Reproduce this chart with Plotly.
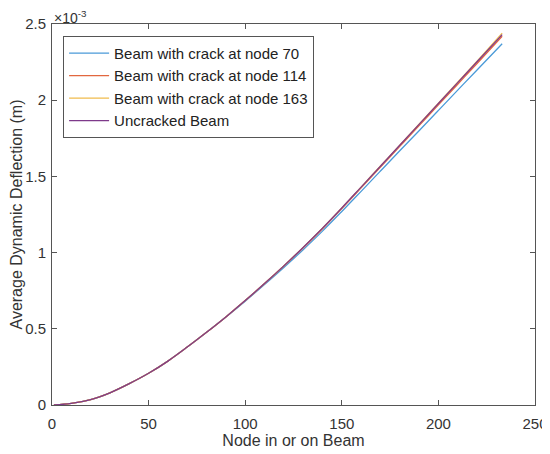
import plotly.graph_objects as go

# nós ao longo da viga
nos = [1, 10, 20, 30, 40, 50, 60, 70, 80, 90, 100, 110, 120, 130, 140, 150,
       160, 170, 180, 190, 200, 210, 220, 233]

# deflexão dinâmica média (x 10^-3 m)
sem_trinca = [0, 0.010, 0.035, 0.080, 0.140, 0.208, 0.288, 0.380, 0.477, 0.578,
              0.685, 0.797, 0.913, 1.034, 1.160, 1.293, 1.430, 1.567, 1.704,
              1.841, 1.978, 2.115, 2.252, 2.430]
trinca_70 = [0, 0.010, 0.035, 0.080, 0.140, 0.208, 0.288, 0.380, 0.477, 0.577,
             0.681, 0.790, 0.902, 1.019, 1.141, 1.270, 1.402, 1.535, 1.668,
             1.800, 1.933, 2.066, 2.198, 2.370]
trinca_114 = [0, 0.010, 0.035, 0.080, 0.140, 0.208, 0.288, 0.380, 0.477, 0.578,
              0.685, 0.797, 0.912, 1.032, 1.157, 1.289, 1.425, 1.561, 1.697,
              1.833, 1.969, 2.105, 2.241, 2.420]
trinca_163 = [0, 0.010, 0.035, 0.080, 0.140, 0.208, 0.288, 0.380, 0.477, 0.578,
              0.685, 0.797, 0.913, 1.034, 1.160, 1.293, 1.430, 1.568, 1.705,
              1.843, 1.981, 2.118, 2.256, 2.440]

nomes = ['Beam with crack at node 70', 'Beam with crack at node 114',
         'Beam with crack at node 163', 'Uncracked Beam']
series = [trinca_70, trinca_114, trinca_163, sem_trinca]
cores = ['#4a9ad8', '#e2673f', '#f0bb4c', '#7e3a8a']

fig = go.Figure()
for nome, y, cor in zip(nomes, series, cores):
    fig.add_trace(go.Scatter(x=nos, y=y, mode='lines', name=nome,
                             line=dict(color=cor, width=1.3, shape='spline', smoothing=1.0)))

eixo = dict(showline=True, linecolor='#555555', linewidth=1, mirror='ticks',
            ticks='inside', ticklen=5, tickcolor='#555555', showgrid=False,
            zeroline=False, automargin=False,
            tickfont=dict(size=15, color='#333333'))

# a página tem margem de 8px no body, por isso a figura é um pouco menor
fig.update_layout(
    width=542, height=446,
    margin=dict(l=44, r=15, t=16, b=49),
    plot_bgcolor='white', paper_bgcolor='white',
    font=dict(family='Liberation Sans, Arial', color='#333333'),
    xaxis=dict(eixo, range=[0, 250], dtick=50, ticklabelstandoff=5,
               title=dict(text='Node in or on Beam', font=dict(size=16), standoff=0)),
    yaxis=dict(eixo, range=[0, 2.5], dtick=0.5, ticklabelstandoff=2,
               title=dict(text='Average Dynamic Deflection (m)', font=dict(size=16), standoff=4)),
    legend=dict(x=0.023, y=0.969, xanchor='left', yanchor='top',
                bgcolor='white', bordercolor='#555555', borderwidth=1,
                font=dict(size=15, color='#222222'), tracegroupgap=0,
                itemwidth=40),
    showlegend=True,
)

# multiplicador do eixo y
fig.add_annotation(text='×10<sup>-3</sup>', xref='paper', yref='paper',
                   x=0.0, y=1.0, xanchor='left', yanchor='bottom', showarrow=False,
                   font=dict(size=14, color='#333333'), yshift=-4)

fig.write_html("out.html")
